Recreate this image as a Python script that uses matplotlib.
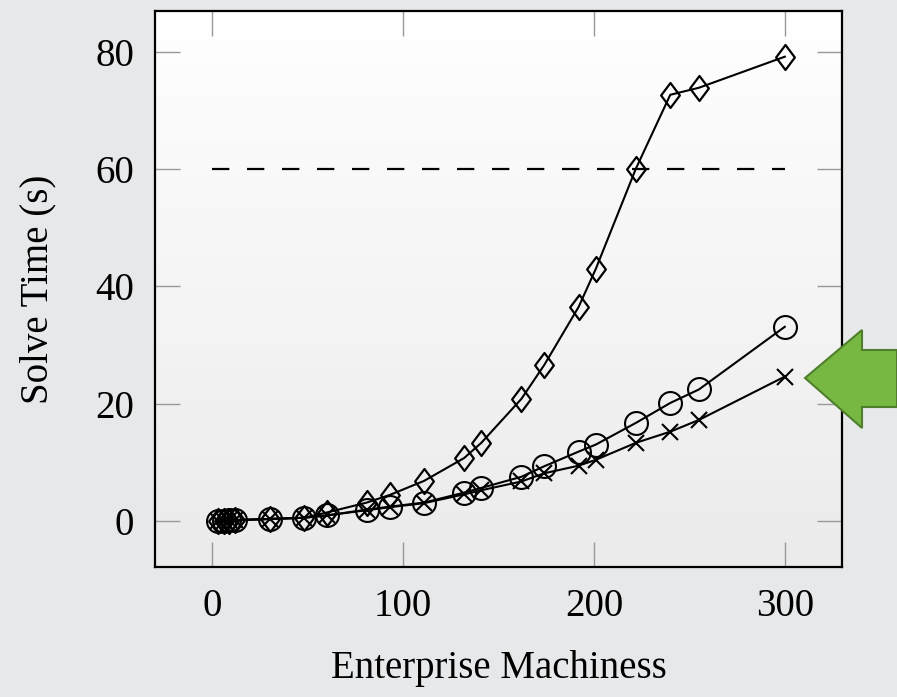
import matplotlib
matplotlib.use("Agg")
import matplotlib.pyplot as plt
import numpy as np
from matplotlib.patches import Polygon
from matplotlib.path import Path

machiness = [3, 6, 9, 12, 30, 48, 60, 81, 93, 111, 132, 141, 162, 174, 192, 201, 222, 240, 255, 300]
time_diamond = [0.0, 0.0, 0.0, 0.1, 0.3, 0.5, 1.4, 3.1, 4.4, 6.8, 10.7, 13.3, 20.8, 26.6, 36.5, 43.0, 60.1, 72.7, 73.9, 79.2]
time_circle = [0.0, 0.0, 0.1, 0.1, 0.3, 0.5, 0.9, 1.9, 2.4, 3.1, 4.8, 5.6, 7.5, 9.3, 11.8, 13.0, 16.7, 20.1, 22.4, 33.1]
time_cross = [0.0, 0.0, 0.1, 0.1, 0.3, 0.5, 0.9, 1.8, 2.3, 3.0, 4.5, 5.2, 6.7, 8.1, 9.4, 10.4, 13.3, 15.2, 17.2, 24.6]
timeout = 60
timeout_span = [0, 300]

plt.rcParams["font.family"] = "Liberation Serif"
plt.rcParams["font.size"] = 28

fig = plt.figure(figsize=(8.97, 6.97), dpi=100, facecolor="#e6e8ea")
ax = fig.add_axes([0.1728, 0.1865, 0.7659, 0.7977])

# soft white-to-grey fill behind the data
grad = np.linspace(1.0, 0.0, 256).reshape(-1, 1)
ax.imshow(grad, extent=[0, 1, 0, 1], transform=ax.transAxes, aspect="auto",
          cmap=matplotlib.colors.LinearSegmentedColormap.from_list("bg", ["#ebebeb", "#ffffff"]),
          zorder=0)

# diamond a bit wider than the built-in thin diamond
diamond = Path([(0, 1), (0.75, 0), (0, -1), (-0.75, 0), (0, 1)],
               [Path.MOVETO, Path.LINETO, Path.LINETO, Path.LINETO, Path.CLOSEPOLY])

ax.plot(timeout_span, [timeout, timeout], color="black", linestyle=(0, (7.8, 7.95)), linewidth=1.6, zorder=2)
ax.plot(machiness, time_diamond, color="black", linewidth=1.5, marker=diamond, markersize=18,
        markerfacecolor="none", markeredgewidth=1.6, zorder=3)
ax.plot(machiness, time_circle, color="black", linewidth=1.5, marker="o", markersize=16.5,
        markerfacecolor="none", markeredgewidth=1.5, zorder=3)
ax.plot(machiness, time_cross, color="black", linewidth=1.5, marker="x", markersize=12,
        markeredgewidth=1.5, zorder=3)

ax.set_xlim(-30, 330)
ax.set_ylim(-7.9, 87)
ax.set_xticks([0, 100, 200, 300])
ax.set_yticks([0, 20, 40, 60, 80])
ax.tick_params(direction="in", length=18, width=1, color="#999999", top=True, right=True,
               pad=15, labelsize=28)
for s in ax.spines.values():
    s.set_linewidth(1.6)
    s.set_color("black")

ax.set_xlabel("Enterprise Machiness", labelpad=18)
ax.set_ylabel("Solve Time (s)", labelpad=28)

# green pointer on the right
W, H = 897, 697
arrow = [(805, 378), (862, 330), (862, 350), (897, 350), (897, 407), (862, 407), (862, 428)]
fig.patches.append(Polygon([(x / W, 1 - y / H) for x, y in arrow], closed=True,
                           transform=fig.transFigure, facecolor="#77b843",
                           edgecolor="#4f7f2b", linewidth=1.5))

fig.savefig("out.png", dpi=100, facecolor=fig.get_facecolor())
